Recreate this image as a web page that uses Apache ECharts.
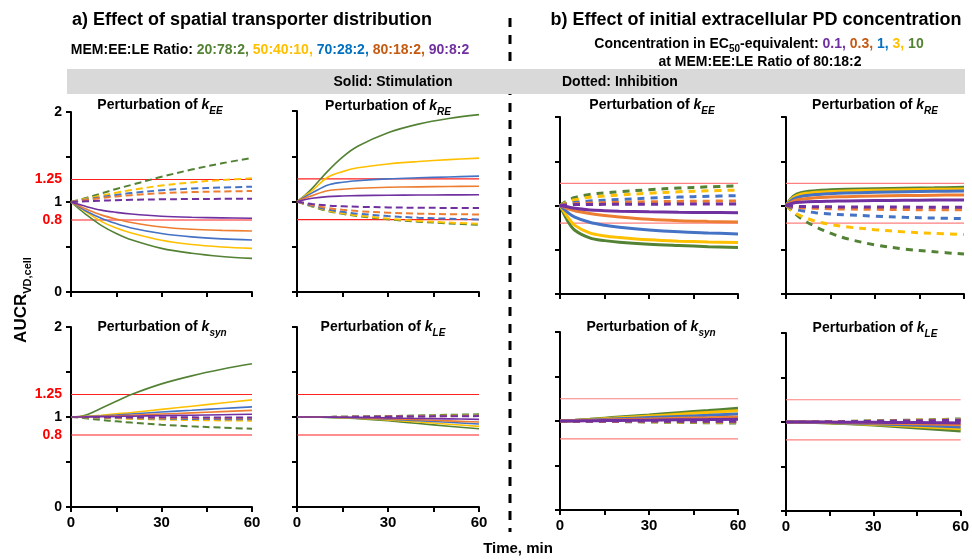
<!DOCTYPE html>
<html>
<head>
<meta charset="utf-8">
<script src="https://cdn.jsdelivr.net/npm/echarts@6/dist/echarts.min.js"></script>
<style>html,body{margin:0;padding:0;background:#fff}#c{width:972px;height:560px}</style>
</head>
<body>
<div id="c"></div>
<script>
// ---------- DATA ----------
const times = [0, 2.5, 5, 10, 15, 20, 30, 40, 50, 60];
const xTicks = [0, 30, 60];
const yTickLabels = [0, 0.8, 1, 1.25, 2];
const refLevels = [1.25, 0.8];
// series order: green, yellow, blue, orange, purple
const ratioLabels = ['20:78:2', '50:40:10', '70:28:2', '80:18:2', '90:8:2'];
const concLabels = ['10', '3', '1', '0.3', '0.1'];

// a) kEE
const aEE_solid = [
  [1, 0.93, 0.86, 0.74, 0.65, 0.58, 0.485, 0.43, 0.395, 0.374],
  [1, 0.945, 0.89, 0.785, 0.71, 0.655, 0.575, 0.527, 0.5, 0.485],
  [1, 0.95, 0.9, 0.82, 0.76, 0.712, 0.65, 0.612, 0.59, 0.578],
  [1, 0.96, 0.922, 0.857, 0.81, 0.772, 0.722, 0.697, 0.685, 0.678],
  [1, 0.975, 0.95, 0.91, 0.885, 0.866, 0.842, 0.83, 0.824, 0.82]
];
const aEE_dashed = [
  [1, 1.022, 1.045, 1.095, 1.145, 1.19, 1.28, 1.36, 1.43, 1.49],
  [1, 1.018, 1.036, 1.07, 1.103, 1.133, 1.183, 1.218, 1.244, 1.263],
  [1, 1.014, 1.027, 1.054, 1.079, 1.1, 1.13, 1.149, 1.161, 1.17],
  [1, 1.011, 1.022, 1.043, 1.061, 1.076, 1.098, 1.11, 1.117, 1.122],
  [1, 1.004, 1.008, 1.015, 1.02, 1.024, 1.03, 1.033, 1.035, 1.037]
];
// a) kRE
const aRE_solid = [
  [1, 1.065, 1.145, 1.33, 1.49, 1.61, 1.76, 1.855, 1.918, 1.96],
  [1, 1.06, 1.12, 1.265, 1.33, 1.372, 1.415, 1.442, 1.463, 1.479],
  [1, 1.05, 1.095, 1.18, 1.213, 1.23, 1.25, 1.262, 1.271, 1.28],
  [1, 1.035, 1.065, 1.118, 1.136, 1.146, 1.157, 1.162, 1.166, 1.169],
  [1, 1.02, 1.036, 1.054, 1.061, 1.065, 1.069, 1.071, 1.073, 1.074]
];
const aRE_dashed = [
  [1, 0.97, 0.945, 0.895, 0.864, 0.84, 0.803, 0.777, 0.758, 0.743],
  [1, 0.972, 0.948, 0.902, 0.871, 0.847, 0.811, 0.785, 0.767, 0.754],
  [1, 0.975, 0.954, 0.912, 0.886, 0.866, 0.839, 0.821, 0.81, 0.802],
  [1, 0.98, 0.962, 0.928, 0.908, 0.894, 0.876, 0.866, 0.86, 0.857],
  [1, 0.985, 0.972, 0.956, 0.948, 0.942, 0.935, 0.931, 0.929, 0.927]
];
// a) ksyn
const aSYN_solid = [
  [1, 1.005, 1.022, 1.097, 1.175, 1.25, 1.368, 1.457, 1.53, 1.591],
  [1, 1.003, 1.008, 1.02, 1.035, 1.05, 1.085, 1.12, 1.155, 1.19],
  [1, 1.002, 1.005, 1.012, 1.022, 1.033, 1.056, 1.075, 1.094, 1.112],
  [1, 1.001, 1.003, 1.008, 1.013, 1.02, 1.033, 1.046, 1.06, 1.074],
  [1, 1, 1.001, 1.003, 1.006, 1.009, 1.015, 1.02, 1.025, 1.03]
];
const aSYN_dashed = [
  [1, 0.995, 0.985, 0.967, 0.952, 0.938, 0.914, 0.896, 0.882, 0.87],
  [1, 0.998, 0.996, 0.99, 0.985, 0.98, 0.972, 0.966, 0.962, 0.959],
  [1, 0.999, 0.997, 0.993, 0.99, 0.987, 0.982, 0.978, 0.976, 0.974],
  [1, 1, 0.998, 0.996, 0.994, 0.992, 0.99, 0.988, 0.986, 0.985],
  [1, 1, 1, 0.999, 0.999, 0.998, 0.997, 0.996, 0.995, 0.994]
];
// a) kLE
const aLE_solid = [
  [1, 1, 0.999, 0.996, 0.99, 0.982, 0.958, 0.928, 0.898, 0.869],
  [1, 1, 0.999, 0.997, 0.992, 0.986, 0.967, 0.945, 0.92, 0.896],
  [1, 1, 1, 0.998, 0.994, 0.99, 0.976, 0.96, 0.941, 0.922],
  [1, 1, 1, 0.998, 0.996, 0.992, 0.982, 0.97, 0.957, 0.944],
  [1, 1, 1, 0.999, 0.998, 0.996, 0.99, 0.984, 0.979, 0.974]
];
const aLE_dashed = [
  [1, 1, 1, 1.001, 1.003, 1.005, 1.01, 1.017, 1.024, 1.03],
  [1, 1, 1, 1.001, 1.002, 1.004, 1.007, 1.011, 1.015, 1.018],
  [1, 1, 1, 1.001, 1.002, 1.003, 1.006, 1.009, 1.012, 1.015],
  [1, 1, 1, 1, 1.001, 1.002, 1.005, 1.007, 1.01, 1.012],
  [1, 1, 1, 1, 1.001, 1.002, 1.004, 1.006, 1.008, 1.01]
];
// b) kEE
const bEE_solid = [
  [1, 0.83, 0.72, 0.635, 0.603, 0.585, 0.563, 0.548, 0.535, 0.525],
  [1, 0.875, 0.775, 0.69, 0.656, 0.638, 0.612, 0.597, 0.588, 0.582],
  [1, 0.925, 0.868, 0.81, 0.777, 0.755, 0.724, 0.703, 0.69, 0.679],
  [1, 0.965, 0.94, 0.91, 0.888, 0.871, 0.845, 0.829, 0.82, 0.814],
  [1, 0.985, 0.968, 0.95, 0.941, 0.935, 0.928, 0.923, 0.921, 0.919]
];
const bEE_dashed = [
  [1, 1.055, 1.09, 1.125, 1.143, 1.156, 1.178, 1.197, 1.211, 1.223],
  [1, 1.04, 1.065, 1.093, 1.107, 1.118, 1.138, 1.155, 1.166, 1.174],
  [1, 1.022, 1.034, 1.05, 1.06, 1.068, 1.083, 1.095, 1.104, 1.111],
  [1, 1.014, 1.021, 1.028, 1.032, 1.036, 1.042, 1.046, 1.049, 1.051],
  [1, 1.007, 1.01, 1.012, 1.013, 1.014, 1.015, 1.016, 1.017, 1.017]
];
// b) kRE
const bRE_solid = [
  [1, 1.105, 1.145, 1.167, 1.177, 1.183, 1.19, 1.196, 1.2, 1.205],
  [1, 1.09, 1.127, 1.149, 1.158, 1.164, 1.172, 1.178, 1.183, 1.187],
  [1, 1.072, 1.102, 1.123, 1.134, 1.141, 1.149, 1.155, 1.16, 1.164],
  [1, 1.05, 1.07, 1.088, 1.095, 1.1, 1.107, 1.112, 1.116, 1.119],
  [1, 1.028, 1.037, 1.045, 1.049, 1.052, 1.056, 1.059, 1.061, 1.063]
];
const bRE_dashed = [
  [1, 0.925, 0.855, 0.76, 0.688, 0.63, 0.555, 0.508, 0.477, 0.451],
  [1, 0.93, 0.883, 0.822, 0.786, 0.76, 0.727, 0.702, 0.684, 0.672],
  [1, 0.963, 0.944, 0.918, 0.904, 0.895, 0.88, 0.867, 0.858, 0.851],
  [1, 0.98, 0.974, 0.968, 0.963, 0.96, 0.957, 0.954, 0.952, 0.951],
  [1, 0.992, 0.989, 0.986, 0.985, 0.984, 0.983, 0.982, 0.981, 0.981]
];
// b) ksyn
const bSYN_solid = [
  [1, 1.004, 1.009, 1.02, 1.032, 1.044, 1.068, 1.094, 1.118, 1.142],
  [1, 1.003, 1.007, 1.016, 1.026, 1.036, 1.056, 1.076, 1.096, 1.116],
  [1, 1.002, 1.005, 1.011, 1.018, 1.025, 1.038, 1.051, 1.064, 1.078],
  [1, 1.001, 1.003, 1.007, 1.011, 1.015, 1.022, 1.03, 1.037, 1.045],
  [1, 1.001, 1.001, 1.003, 1.005, 1.006, 1.009, 1.013, 1.016, 1.019]
];
const bSYN_dashed = [
  [1, 0.999, 0.998, 0.996, 0.994, 0.993, 0.989, 0.985, 0.981, 0.978],
  [1, 0.999, 0.999, 0.997, 0.996, 0.995, 0.992, 0.99, 0.987, 0.985],
  [1, 1, 0.999, 0.998, 0.997, 0.996, 0.995, 0.993, 0.991, 0.99],
  [1, 1, 1, 0.999, 0.998, 0.998, 0.997, 0.996, 0.995, 0.994],
  [1, 1, 1, 1, 0.999, 0.999, 0.999, 0.998, 0.998, 0.997]
];
// b) kLE
const bLE_solid = [
  [1, 0.999, 0.997, 0.993, 0.988, 0.982, 0.965, 0.945, 0.922, 0.899],
  [1, 0.999, 0.998, 0.995, 0.991, 0.986, 0.973, 0.958, 0.942, 0.925],
  [1, 1, 0.999, 0.997, 0.994, 0.99, 0.981, 0.97, 0.957, 0.944],
  [1, 1, 1, 0.999, 0.997, 0.995, 0.99, 0.984, 0.977, 0.97],
  [1, 1, 1, 1, 0.999, 0.998, 0.996, 0.994, 0.992, 0.989]
];
const bLE_dashed = [
  [1, 1, 1.001, 1.002, 1.004, 1.006, 1.012, 1.019, 1.026, 1.034],
  [1, 1, 1.001, 1.002, 1.003, 1.005, 1.01, 1.016, 1.022, 1.028],
  [1, 1, 1, 1.001, 1.003, 1.004, 1.009, 1.014, 1.019, 1.024],
  [1, 1, 1, 1.001, 1.002, 1.004, 1.008, 1.012, 1.017, 1.021],
  [1, 1, 1, 1.001, 1.002, 1.003, 1.007, 1.011, 1.014, 1.018]
];

// ---------- STYLE / LAYOUT ----------
const lineColors = ['#548235', '#FFC000', '#4472C4', '#ED7D31', '#7030A0'];
const textColors = ['#548235', '#FFC000', '#0070C0', '#C55A11', '#7030A0'];
const FONT = '"Liberation Sans", Arial, Helvetica, sans-serif';

const panels = [
  {solid: aEE_solid, dashed: aEE_dashed, sub: 'EE', box: [71, 112, 181, 180], side: 'a', labelY: true, labelX: false, tx: 160, ty: 105},
  {solid: aRE_solid, dashed: aRE_dashed, sub: 'RE', box: [297, 111, 182, 181], side: 'a', labelY: false, labelX: false, tx: 388, ty: 106},
  {solid: bEE_solid, dashed: bEE_dashed, sub: 'EE', box: [560, 117, 178, 177], side: 'b', labelY: false, labelX: false, tx: 652, ty: 105},
  {solid: bRE_solid, dashed: bRE_dashed, sub: 'RE', box: [786, 117, 178, 177], side: 'b', labelY: false, labelX: false, tx: 875, ty: 105},
  {solid: aSYN_solid, dashed: aSYN_dashed, sub: 'syn', box: [71, 327, 181, 180], side: 'a', labelY: true, labelX: true, tx: 162, ty: 327},
  {solid: aLE_solid, dashed: aLE_dashed, sub: 'LE', box: [297, 327, 182, 180], side: 'a', labelY: false, labelX: true, tx: 383, ty: 327},
  {solid: bSYN_solid, dashed: bSYN_dashed, sub: 'syn', box: [560, 332, 178, 178], side: 'b', labelY: false, labelX: true, tx: 651, ty: 327},
  {solid: bLE_solid, dashed: bLE_dashed, sub: 'LE', box: [786, 333, 178, 178], side: 'b', labelY: false, labelX: true, tx: 875, ty: 328}
];

const grid = [], xAxis = [], yAxis = [], series = [], graphic = [];
const mk = vals => times.map((t, i) => [t, vals[i]]);
const xEnds = [xTicks[0], xTicks[xTicks.length - 1]];

panels.forEach((p, i) => {
  const [l, t, w, h] = p.box;
  grid.push({left: l, top: t, width: w, height: h, containLabel: false});
  xAxis.push({
    gridIndex: i, type: 'value', min: 0, max: 60, interval: 15, offset: 3,
    axisLine: {show: true, lineStyle: {color: '#000', width: 2}},
    axisTick: {show: true, length: 5, lineStyle: {color: '#000', width: 2}},
    axisLabel: p.labelX ? {show: true, customValues: xTicks, fontSize: 15, fontWeight: 'bold', fontFamily: FONT, color: '#000', margin: 5} : {show: false},
    splitLine: {show: false}
  });
  yAxis.push({
    gridIndex: i, type: 'value', min: 0, max: 2, interval: 0.5, offset: 3,
    axisLine: {show: true, lineStyle: {color: '#000', width: 2}},
    axisTick: {show: true, length: 5, customValues: [0, 0.5, 1, 1.5, 2], lineStyle: {color: '#000', width: 2}},
    axisLabel: p.labelY ? {
      show: true, customValues: yTickLabels, fontSize: 14, fontWeight: 'bold', fontFamily: FONT, margin: 6,
      formatter: v => String(v),
      color: v => (refLevels.indexOf(Number(v)) >= 0 ? '#FF0000' : '#000')
    } : {show: false},
    splitLine: {show: false}
  });
  const isA = p.side === 'a';
  const lw = isA ? 1.6 : 3;
  const dw = isA ? 2 : 3;
  const dash = isA ? [7, 4] : [7, 6];
  // reference lines (threshold levels) through the axes
  refLevels.forEach(v => {
    series.push({
      type: 'line', xAxisIndex: i, yAxisIndex: i, silent: true, showSymbol: false,
      data: xEnds.map(x => [x, v]),
      lineStyle: {color: isA ? '#FF2020' : '#FF8080', width: 1.2, type: 'solid'}, z: 1
    });
  });
  for (let j = 0; j < 5; j++) {
    series.push({
      type: 'line', xAxisIndex: i, yAxisIndex: i, data: mk(p.dashed[j]),
      showSymbol: false, smooth: 0.35, silent: true,
      lineStyle: {color: lineColors[j], width: dw, type: dash}, z: 2 + j * 0.1
    });
  }
  for (let j = 0; j < 5; j++) {
    series.push({
      type: 'line', xAxisIndex: i, yAxisIndex: i, data: mk(p.solid[j]),
      showSymbol: false, smooth: 0.35, silent: true,
      lineStyle: {color: lineColors[j], width: lw, type: 'solid'}, z: 3 + j * 0.1
    });
  }
  graphic.push({
    type: 'text', x: p.tx, y: p.ty, z: 10,
    style: {
      text: '{n|Perturbation of }{k|k}{s|' + p.sub + '}',
      align: 'center', verticalAlign: 'middle',
      rich: {
        n: {fontSize: 14, fontWeight: 'bold', fontFamily: FONT, fill: '#000', lineHeight: 22},
        k: {fontSize: 14, fontWeight: 'bold', fontStyle: 'italic', fontFamily: FONT, fill: '#000', lineHeight: 22},
        s: {fontSize: 10, fontWeight: 'bold', fontStyle: 'italic', fontFamily: FONT, fill: '#000', lineHeight: 12, verticalAlign: 'bottom'}
      }
    }
  });
});

// separator and band
graphic.push({type: 'line', shape: {x1: 510, y1: 18, x2: 510, y2: 532}, style: {stroke: '#000', lineWidth: 3, lineDash: [9, 8]}, z: 1});
graphic.push({type: 'rect', shape: {x: 67, y: 69, width: 898, height: 25}, style: {fill: '#D9D9D9'}, z: 2});
graphic.push({type: 'text', x: 393, y: 82, z: 3, style: {text: 'Solid: Stimulation', font: 'bold 14px ' + FONT, fill: '#000', align: 'center', verticalAlign: 'middle'}});
graphic.push({type: 'text', x: 562, y: 82, z: 3, style: {text: 'Dotted: Inhibition', font: 'bold 14px ' + FONT, fill: '#000', align: 'left', verticalAlign: 'middle'}});

// titles
graphic.push({type: 'text', x: 252, y: 20, style: {text: 'a) Effect of spatial transporter distribution', font: 'bold 18px ' + FONT, fill: '#000', align: 'center', verticalAlign: 'middle'}});
graphic.push({type: 'text', x: 756, y: 20, style: {text: 'b) Effect of initial extracellular PD concentration', font: 'bold 18px ' + FONT, fill: '#000', align: 'center', verticalAlign: 'middle'}});

// legend a
const richLeg = {k: {fontSize: 14, fontWeight: 'bold', fontFamily: FONT, fill: '#000'}};
const keys = ['g', 'y', 'b', 'o', 'p'];
keys.forEach((k, j) => { richLeg[k] = {fontSize: 14, fontWeight: 'bold', fontFamily: FONT, fill: textColors[j]}; });
graphic.push({type: 'text', x: 270, y: 50, style: {
  text: '{k|MEM:EE:LE Ratio: }' + ratioLabels.map((r, j) => '{' + keys[j] + '|' + r + (j < 4 ? ', ' : '') + '}').join(''),
  align: 'center', verticalAlign: 'middle', rich: richLeg}});
// legend b
const richB = Object.assign({}, richLeg);
Object.keys(richB).forEach(k => { richB[k] = Object.assign({}, richB[k], {lineHeight: 20}); });
richB.sub = {fontSize: 10, fontWeight: 'bold', fontFamily: FONT, fill: '#000', lineHeight: 12, verticalAlign: 'bottom'};
const order = [4, 3, 2, 1, 0];
graphic.push({type: 'text', x: 759, y: 44, style: {
  text: '{k|Concentration in EC}{sub|50}{k|-equivalent: }' + order.map((j, n) => '{' + keys[j] + '|' + concLabels[j] + (n < 4 ? ', ' : '') + '}').join(''),
  align: 'center', verticalAlign: 'middle', rich: richB}});
graphic.push({type: 'text', x: 760, y: 62, style: {text: 'at MEM:EE:LE Ratio of 80:18:2', font: 'bold 14px ' + FONT, fill: '#000', align: 'center', verticalAlign: 'middle'}});

// axis titles
graphic.push({type: 'text', x: 21, y: 300, rotation: Math.PI / 2, style: {
  text: '{m|AUCR}{s|VD,cell}', align: 'center', verticalAlign: 'middle',
  rich: {
    m: {fontSize: 17, fontWeight: 'bold', fontFamily: FONT, fill: '#000', lineHeight: 24},
    s: {fontSize: 11, fontWeight: 'bold', fontFamily: FONT, fill: '#000', lineHeight: 13, verticalAlign: 'bottom'}
  }}});
graphic.push({type: 'text', x: 518, y: 549, style: {text: 'Time, min', font: 'bold 15px ' + FONT, fill: '#000', align: 'center', verticalAlign: 'middle'}});

const chart = echarts.init(document.getElementById('c'), null, {renderer: 'canvas'});
chart.setOption({
  animation: false,
  backgroundColor: '#fff',
  grid, xAxis, yAxis, series, graphic
});
</script>
</body>
</html>
